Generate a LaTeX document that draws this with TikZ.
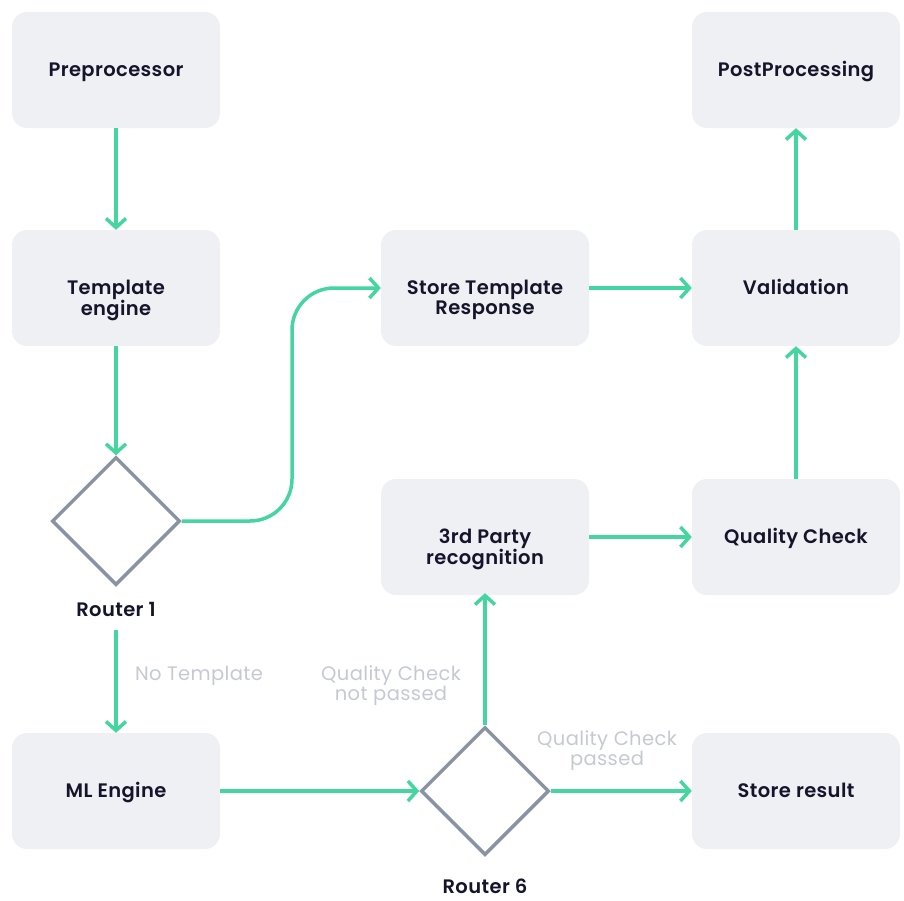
\documentclass[tikz,border=0pt]{standalone}
\usepackage{fontspec}
\setmainfont{Poppins}[BoldFont={Poppins SemiBold}, LetterSpace=2]
\usetikzlibrary{arrows.meta,shapes.geometric}
\definecolor{boxfill}{HTML}{EFF0F4}
\definecolor{flow}{HTML}{45D6A0}
\definecolor{routeline}{HTML}{8A93A3}
\definecolor{ink}{HTML}{14142B}
\definecolor{note}{HTML}{C5C9D2}
% two-line caption hanging below its first line
\newcommand\duoline[2]{\begin{tabular}[t]{@{}c@{}}#1\\#2\end{tabular}}
\begin{document}
\begin{tikzpicture}[x=1pt,y=-1pt,
  stage/.style={rectangle, rounded corners=15pt, fill=boxfill,
    minimum width=208pt, minimum height=116pt,
    text height=19pt, text depth=6pt,
    text=ink, font=\fontsize{19.5}{20}\selectfont\bfseries},
  router/.style={diamond, draw=routeline, line width=3.5pt,
    minimum width=128pt, minimum height=128pt, inner sep=0pt},
  rlabel/.style={text=ink, font=\fontsize{19.5}{20}\selectfont\bfseries},
  cond/.style={text=note, align=center, font=\fontsize{19.5}{20}\selectfont},
  flowarrow/.style={draw=flow, line width=3.5pt,
    -{Straight Barb[length=9pt,width=20pt,line width=3.5pt]}}]
  \useasboundingbox (0,0) rectangle (904,900);

  % processing stages
  \node[stage] (pre)  at (116,70)  {Preprocessor};
  \node[stage] (tpl)  at (116,288) {\duoline{Template}{engine}};
  \node[stage] (str)  at (485,288) {\duoline{Store Template}{Response}};
  \node[stage] (val)  at (796,288) {Validation};
  \node[stage] (post) at (796,70)  {PostProcessing};
  \node[stage] (tpr)  at (485,537) {\duoline{3rd Party}{recognition}};
  \node[stage] (qc)   at (796,537) {Quality Check};
  \node[stage] (ml)   at (116,791) {ML Engine};
  \node[stage] (res)  at (796,791) {Store result};

  % routers
  \node[router] (r1) at (116,521) {};
  \node[router] (r6) at (485,791) {};
  \node[rlabel] (r1l) at (116,609) {Router 1};
  \node[rlabel] (r6l) at (485,886) {Router 6};

  % branch conditions
  \node[cond] (c1) at (199,676) {No Template};
  \node[cond] (c2) at (391,686) {Quality Check\\not passed};
  \node[cond] (c3) at (607,751) {Quality Check\\passed};

  % connectors
  \coordinate (r1out) at (116,630);
  \draw[flowarrow] (pre.south) -- (tpl.north);
  \draw[flowarrow] (tpl.south) -- (r1.north);
  \draw[flowarrow, rounded corners=42pt] (r1.east) -| (292,288) -- (str.west);
  \draw[flowarrow] (str.east) -- (val.west);
  \draw[flowarrow] (val.north) -- (post.south);
  \draw[flowarrow] (qc.north) -- (val.south);
  \draw[flowarrow] (tpr.east) -- (qc.west);
  \draw[flowarrow] (r1out) -- (ml.north);
  \draw[flowarrow] (ml.east) -- (r6.west);
  \draw[flowarrow] (r6.north) -- ([yshift=2pt]tpr.south);
  \draw[flowarrow] (r6.east) -- (res.west);
\end{tikzpicture}
\end{document}
